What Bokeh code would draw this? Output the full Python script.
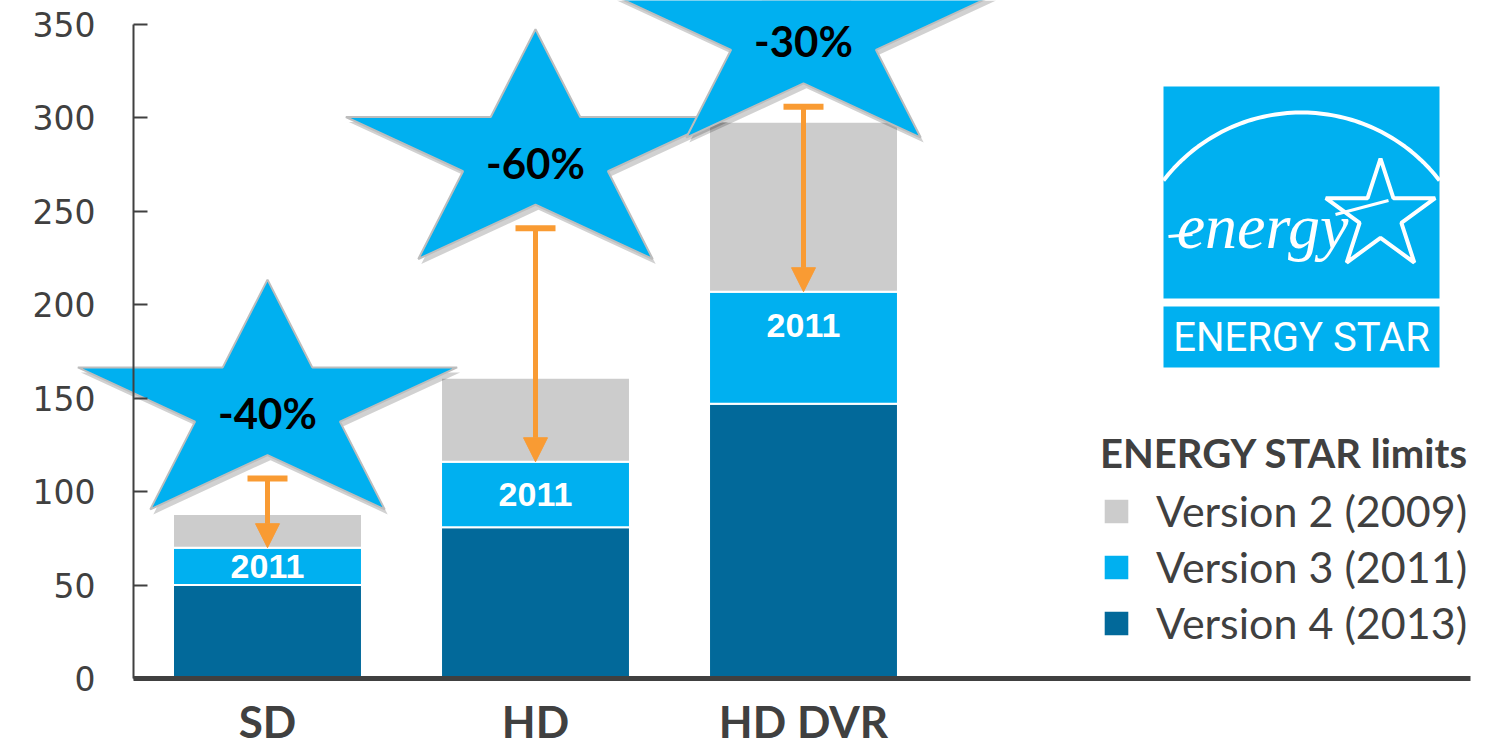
import numpy as np
from bokeh.plotting import figure
from bokeh.models import (Range1d, FixedTicker, Legend, LegendItem, Arrow, TeeHead,
                          NormalHead, ColumnDataSource)
from bokeh.core.properties import value
from bokeh.embed import file_html
from bokeh.resources import INLINE

# ---------------- data ----------------
categories = ["SD", "HD", "HD DVR"]
v2_2009 = [88, 161, 298]      # Version 2 (2009) limit
v3_2011 = [70, 116, 207]      # Version 3 (2011) limit
v4_2013 = [50, 81, 147]       # Version 4 (2013) limit
arrow_from = [107, 241, 306]  # start of reduction arrows
reductions = ["-40%", "-60%", "-30%"]
series_names = ["Version 2 (2009)", "Version 3 (2011)", "Version 4 (2013)"]
y_ticks = [0, 50, 100, 150, 200, 250, 300, 350]
segment_label = "2011"
legend_title = "ENERGY STAR limits"
logo_top_text = "energy"
logo_bottom_text = "ENERGY STAR"

# ---------------- layout / style ----------------
W, H = 1495, 751
AX_LEFT, AX_BOTTOM = 133, 678     # pixel position of the axes inside the canvas
PX_X = 268.0                       # pixels per category step
PX_Y = 1.8685                      # pixels per unit
X_RANGE = (-0.5 - AX_LEFT / PX_X, -0.5 + (W - AX_LEFT) / PX_X)
Y_RANGE = (-(H - AX_BOTTOM) / PX_Y, AX_BOTTOM / PX_Y)
BAR_W = 0.705
GRAY, LBLUE, DBLUE = "#CCCCCC", "#00B0F0", "#02699A"
ORANGE = "#F99B33"
TXT = "#404040"


def dx(px):
    return X_RANGE[0] + px / PX_X


def dy(py):
    return Y_RANGE[1] - py / PX_Y


p = figure(width=W, height=H, x_range=Range1d(*X_RANGE), y_range=Range1d(*Y_RANGE),
           output_backend="svg", toolbar_location=None,
           min_border_left=0, min_border_right=0, min_border_top=0, min_border_bottom=0)
p.xgrid.visible = False
p.ygrid.visible = False
p.outline_line_color = None
p.background_fill_color = "white"

# axes (drawn at fixed positions inside the frame)
p.yaxis.fixed_location = -0.5
p.yaxis.ticker = FixedTicker(ticks=y_ticks)
p.yaxis.bounds = (0, 350)
p.yaxis.axis_line_width = 2
p.yaxis.axis_line_color = TXT
p.yaxis.major_tick_in = 14
p.yaxis.major_tick_out = 0
p.yaxis.major_tick_line_width = 2
p.yaxis.major_tick_line_color = TXT
p.yaxis.minor_tick_line_color = None
p.yaxis.major_label_text_font = "DejaVu Sans"
p.yaxis.major_label_text_font_size = "33px"
p.yaxis.major_label_text_color = TXT
p.yaxis.major_label_standoff = 38

xs = list(range(len(categories)))
p.xaxis.fixed_location = 0
p.xaxis.bounds = (-0.5, 4.49)
p.xaxis.ticker = FixedTicker(ticks=xs)
p.xaxis.major_label_overrides = {i: c for i, c in zip(xs, categories)}
p.xaxis.axis_line_width = 5
p.xaxis.axis_line_color = TXT
p.xaxis.major_tick_line_color = None
p.xaxis.minor_tick_line_color = None
p.xaxis.major_label_text_font = "Lato"
p.xaxis.major_label_text_font_style = "bold"
p.xaxis.major_label_text_font_size = "44px"
p.xaxis.major_label_text_color = TXT
p.xaxis.major_label_standoff = 10

# bars
seg_y = [max((a + b) / 2, b - 18) for a, b in zip(v4_2013, v3_2011)]
src = ColumnDataSource(dict(x=xs, zero=[0] * len(xs), v2=v2_2009, v3=v3_2011, v4=v4_2013,
                            afrom=arrow_from, seg_y=seg_y,
                            seg_txt=[segment_label] * len(xs)))
r4 = p.vbar(x="x", bottom="zero", top="v4", width=BAR_W, fill_color=DBLUE,
            line_color="white", line_width=2, source=src)
r3 = p.vbar(x="x", bottom="v4", top="v3", width=BAR_W, fill_color=LBLUE,
            line_color="white", line_width=2, source=src)
r2 = p.vbar(x="x", bottom="v3", top="v2", width=BAR_W, fill_color=GRAY,
            line_color="white", line_width=2, source=src)

p.text(x="x", y="seg_y", text="seg_txt", source=src, text_color="white",
       text_font=value("Liberation Sans"), text_font_style="bold",
       text_font_size="34px", text_align="center", text_baseline="middle")

# stars
STAR_R = 127
STAR_SX = 1.57
STAR_OFF = 38.5


def star(cx, cy, R, sx, ratio=0.382):
    ang = np.deg2rad(90 + 36 * np.arange(10))
    rad = np.where(np.arange(10) % 2 == 0, R, R * ratio)
    return (cx + sx * rad * np.cos(ang) / PX_X, cy + rad * np.sin(ang) / PX_Y)


star_xs, star_ys, sh_xs, sh_ys = [], [], [], []
for x, a in zip(xs, arrow_from):
    sxp, syp = star(x, a + STAR_OFF, STAR_R, STAR_SX)
    star_xs.append(list(sxp))
    star_ys.append(list(syp))
    sh_xs.append(list(sxp + 3 / PX_X))
    sh_ys.append(list(syp - 5 / PX_Y))

p.patches(sh_xs, sh_ys, fill_color="#000000", fill_alpha=0.18, line_color=None)
p.patches(star_xs, star_ys, fill_color=LBLUE, line_color="#BDBDBD", line_width=2)

star_src = ColumnDataSource(dict(x=xs, y=[a + STAR_OFF - 3.5 for a in arrow_from],
                                 t=reductions))
p.text(x="x", y="y", text="t", source=star_src, text_color="black",
       text_font=value("Lato"), text_font_style="bold", text_font_size="42px",
       text_align="center", text_baseline="middle")

# arrows
p.add_layout(Arrow(start=TeeHead(size=40, line_color=ORANGE, line_width=6),
                   end=NormalHead(size=24, fill_color=ORANGE, line_color=ORANGE),
                   x_start="x", y_start="afrom", x_end="x", y_end="v3", source=src,
                   line_color=ORANGE, line_width=5))

# ENERGY STAR logo
L, R_, T1, B1, T2, B2 = 1163, 1439, 86, 298, 306, 367
p.quad(left=[dx(L)], right=[dx(R_)], top=[dy(T1)], bottom=[dy(B1)],
       fill_color=LBLUE, line_color=None)
p.quad(left=[dx(L)], right=[dx(R_)], top=[dy(T2)], bottom=[dy(B2)],
       fill_color=LBLUE, line_color=None)
th = np.deg2rad(np.linspace(37.5, 142.5, 80))
p.line(dx(1301 + 174 * np.cos(th)), dy(286 - 174 * np.sin(th)),
       line_color="white", line_width=4)
lx, ly = star(0, 0, 57.5, 1.0)
lx, ly = lx * PX_X, ly * PX_Y
p.line(list(dx(1380 + lx)) + [dx(1380 + lx[0])],
       list(dy(215.5 - ly)) + [dy(215.5 - ly[0])],
       line_color="white", line_width=4)
p.line([dx(1335), dx(1388)], [dy(214), dy(200)], line_color="white", line_width=3)
p.line([dx(1168), dx(1192)], [dy(236), dy(234)], line_color="white", line_width=3)
p.text(x=[dx(1262)], y=[dy(226)], text=[logo_top_text], text_color="white",
       text_font=value("Liberation Serif"), text_font_style="italic",
       text_font_size="64px", text_align="center", text_baseline="middle")
p.text(x=[dx(1301)], y=[dy(337)], text=[logo_bottom_text], text_color="white",
       text_font=value("Roboto"), text_font_size="40px",
       text_align="center", text_baseline="middle")

# legend
legend = Legend(items=[LegendItem(label=series_names[0], renderers=[r2]),
                       LegendItem(label=series_names[1], renderers=[r3]),
                       LegendItem(label=series_names[2], renderers=[r4])],
                location=(1100, 103), title=legend_title,
                title_text_font="Lato", title_text_font_style="bold",
                title_text_font_size="40px", title_text_color=TXT, title_standoff=8,
                label_text_font="Lato", label_text_font_size="43px",
                label_text_color=TXT, glyph_width=32, glyph_height=32,
                label_standoff=24, spacing=5, padding=0, margin=0,
                border_line_color=None, background_fill_alpha=0)
p.add_layout(legend)

open("out.html", "w").write(file_html(p, INLINE))
